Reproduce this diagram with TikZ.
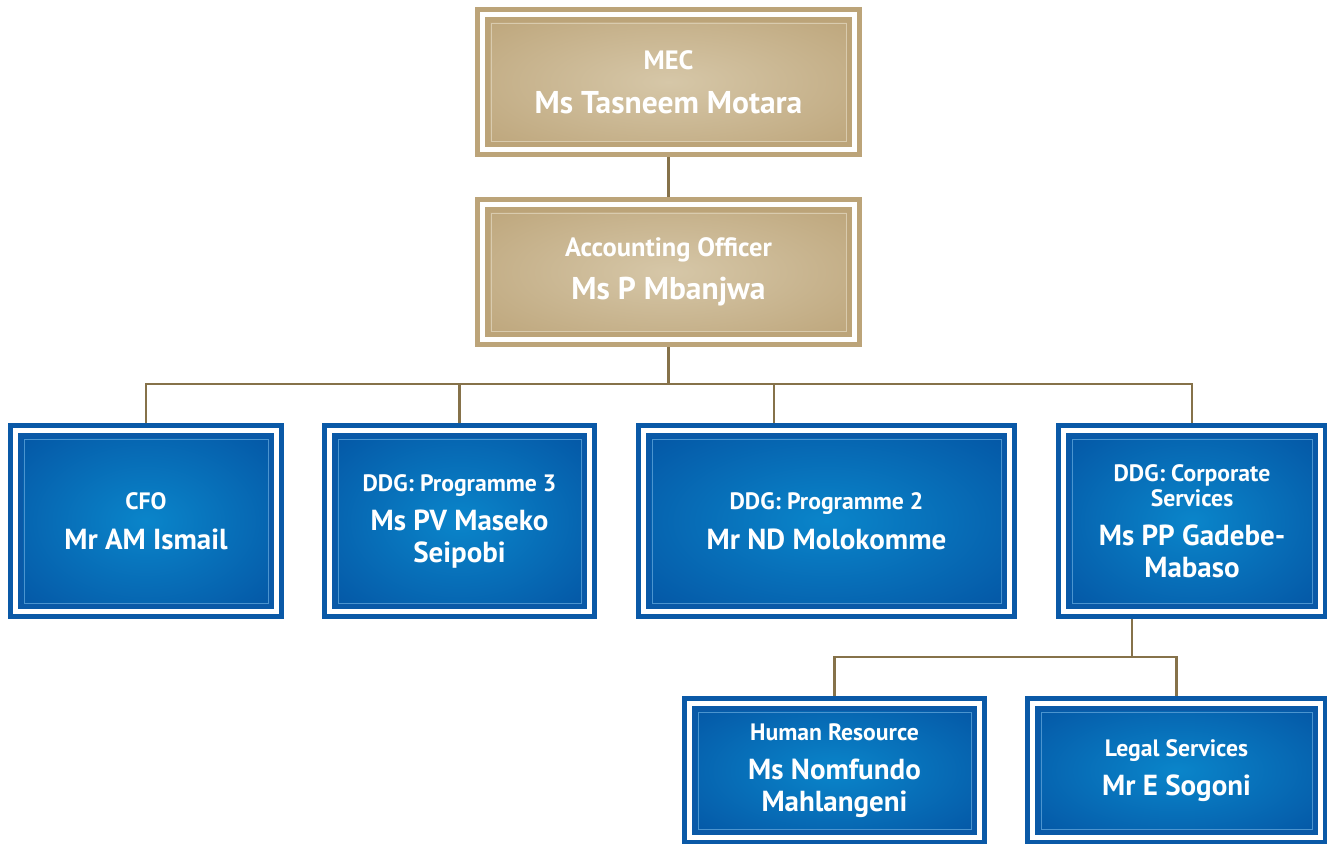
\documentclass[tikz,border=0pt]{standalone}
\usepackage{fontspec}
\setmainfont{PT Sans}
\usetikzlibrary{positioning, calc}

\definecolor{goldedge}{HTML}{BCA479}
\definecolor{goldlight}{HTML}{D6C7A8}
\definecolor{goldline}{HTML}{D9CBAE}
\definecolor{blueedge}{HTML}{0A59A7}
\definecolor{bluelight}{HTML}{0A85CA}
\definecolor{bluedark}{HTML}{0454A3}
\definecolor{blueline}{HTML}{4B94CF}
\definecolor{linkcol}{HTML}{86724A}

\pgfdeclareradialshading{goldglow}{\pgfpoint{0bp}{0bp}}{color(0bp)=(goldlight); color(36bp)=(goldedge); color(50bp)=(goldedge)}
\pgfdeclareradialshading{blueglow}{\pgfpoint{0bp}{0bp}}{color(0bp)=(bluelight); color(36bp)=(bluedark); color(50bp)=(bluedark)}

\newcommand\roletxt{\fontsize{23.7}{25}\selectfont\bfseries}
\newcommand\persontxt{\fontsize{29}{31.5}\selectfont\bfseries}
\newcommand\goldrole{\fontsize{26.5}{28}\selectfont\bfseries}
\newcommand\goldperson{\fontsize{31.5}{33}\selectfont\bfseries}

\begin{document}
\begin{tikzpicture}[x=1pt, y=-1pt,
	link/.style={draw=linkcol, line width=2.2pt},
	orgbox/.style={line width=5pt, double=white, double distance=5pt,
		outer sep=7.5pt, inner sep=0pt, align=center, text=white},
	goldbox/.style={orgbox, draw=goldedge, shading=goldglow, font=\goldperson,
		minimum width=372pt, minimum height=135pt,
		path picture={\draw[goldline, line width=0.8pt]
			([shift={(8.5pt,-8.5pt)}]path picture bounding box.north west) rectangle
			([shift={(-8.5pt,8.5pt)}]path picture bounding box.south east);}},
	bluebox/.style={orgbox, draw=blueedge, shading=blueglow, font=\persontxt,
		minimum height=181pt,
		path picture={\draw[blueline, line width=0.8pt]
			([shift={(8.5pt,-8.5pt)}]path picture bounding box.north west) rectangle
			([shift={(-8.5pt,8.5pt)}]path picture bounding box.south east);}}
]
\useasboundingbox (0,0) rectangle (1327,843);
\clip (0,0) rectangle (1327,843);

% top of the department
\node[goldbox] (mec) at (668.5,82) {\goldrole MEC\\[11pt]Ms Tasneem Motara};
\node[goldbox] (ao) at (668.5,272) {\goldrole Accounting Officer\\[10pt]Ms P Mbanjwa};

% branches
\node[bluebox, minimum width=261pt] (cfo) at (146,521) {\roletxt CFO\\[8pt]Mr AM Ismail};
\node[bluebox, minimum width=260pt] (prog3) at (459.5,521) {\roletxt DDG: Programme 3\\[8pt]Ms PV Maseko\\Seipobi};
\node[bluebox, minimum width=366pt] (prog2) at (826.5,521) {\roletxt DDG: Programme 2\\[8pt]Mr ND Molokomme};
\node[bluebox, minimum width=257pt] (corp) at (1192,521) {\roletxt DDG: Corporate\\[-6.5pt]\roletxt Services\\[8pt]Ms PP Gadebe-\\Mabaso};

% corporate services units
\node[bluebox, minimum width=290pt, minimum height=134pt] (hr) at (834.5,770.5) {\roletxt Human Resource\\[8pt]Ms Nomfundo\\Mahlangeni};
\node[bluebox, minimum width=288pt, minimum height=134pt] (legal) at (1176.5,770.5) {\roletxt Legal Services\\[8pt]Mr E Sogoni};

% reporting lines
\draw[link] (mec) -- (ao);
\draw[link] (ao.south) -- ++(0,37) coordinate (bus);
\draw[link] (cfo.north) |- (bus) -| (corp.north);
\draw[link] (prog3.north) -- (prog3.north |- bus);
\coordinate (prog2-top) at ([xshift=-52.5pt]prog2.north);
\draw[link] (prog2-top) -- (prog2-top |- bus);
\draw[link] ([xshift=-60pt]corp.south) -- ++(0,38) coordinate (bus2);
\draw[link] (hr.north) |- (bus2) -| (legal.north);
\end{tikzpicture}
\end{document}
